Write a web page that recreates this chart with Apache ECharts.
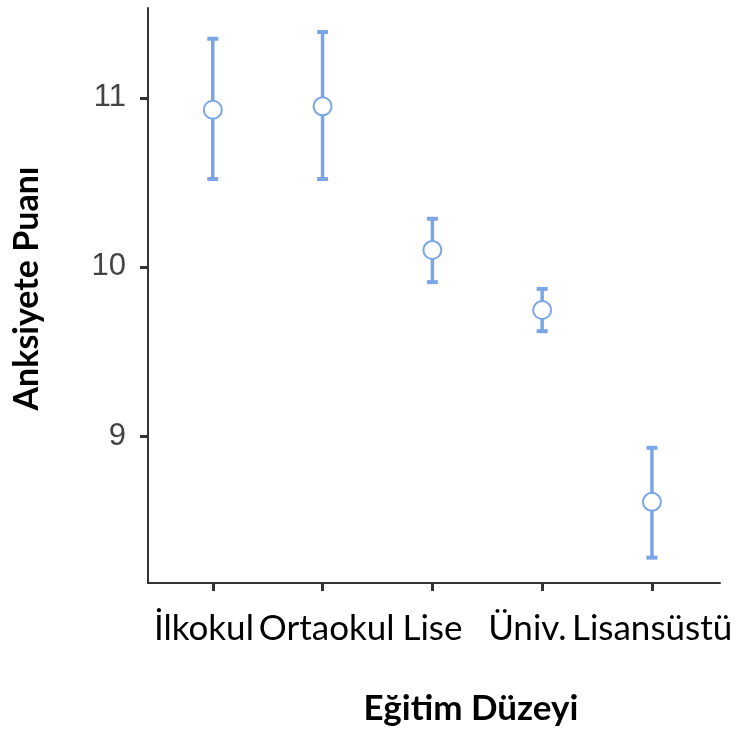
<!DOCTYPE html>
<html>
<head>
<meta charset="utf-8">
<script src="https://cdn.jsdelivr.net/npm/echarts@6/dist/echarts.min.js"></script>
<style>
  html, body { margin: 0; padding: 0; background: #ffffff; }
  #chart { width: 737px; height: 733px; }
</style>
</head>
<body>
<div id="chart"></div>
<script>
// Education levels and anxiety score: means with confidence intervals
const categories = ['İlkokul', 'Ortaokul', 'Lise', 'Üniv.', 'Lisansüstü'];
const means = [10.93, 10.95, 10.10, 9.745, 8.61];
const lower = [10.52, 10.52, 9.91, 9.62, 8.28];
const upper = [11.35, 11.39, 10.285, 9.87, 8.93];
const yTicks = [9, 10, 11];

const barColor = '#7aa6e8';
const axisColor = '#333333';
const labelFont = 'Lato';

const chart = echarts.init(document.getElementById('chart'));

const idx = categories.map((_, i) => i);
const intervalData = categories.map((_, i) => [i, lower[i], upper[i]]);
const meanData = categories.map((_, i) => [i, means[i]]);

// horizontal nudges (px) for some category labels so the row reads evenly
const labelNudge = { 0: -9, 1: 4, 3: -15 };
const rich = {};
Object.keys(labelNudge).forEach(k => {
  const d = labelNudge[k];
  rich['s' + k] = {
    fontFamily: labelFont, fontSize: 35, color: '#000',
    padding: d < 0 ? [0, -2 * d, 0, 0] : [0, 0, 0, 2 * d]
  };
});

chart.setOption({
  animation: false,
  backgroundColor: '#ffffff',
  grid: [
    // plotting area
    { left: 148, right: 17, top: 8, bottom: 150, containLabel: false },
    // label band: one category slot per level, centred on the level ticks
    { left: 158, right: 30, top: 8, bottom: 150, containLabel: false }
  ],
  xAxis: [
    {
      type: 'value',
      gridIndex: 0,
      min: -0.59,
      max: 4.62,
      splitLine: { show: false },
      axisLine: { show: true, onZero: false, lineStyle: { color: axisColor, width: 2 } },
      axisTick: { show: true, customValues: idx, length: 8, lineStyle: { color: axisColor, width: 3 } },
      axisLabel: { show: false },
      name: 'Eğitim Düzeyi',
      nameLocation: 'middle',
      nameGap: 108,
      nameTextStyle: {
        fontFamily: labelFont, fontWeight: 'bold', fontSize: 35, color: '#000000',
        padding: [0, 0, 0, 74]
      }
    },
    {
      type: 'category',
      gridIndex: 1,
      data: categories,
      boundaryGap: true,
      axisLine: { show: false },
      axisTick: { show: false },
      splitLine: { show: false },
      axisLabel: {
        interval: 0,
        hideOverlap: false,
        margin: 28,
        color: '#000000',
        fontFamily: labelFont,
        fontSize: 35,
        formatter: (v, i) => labelNudge[i] ? '{s' + i + '|' + v + '}' : v,
        rich
      }
    }
  ],
  yAxis: [
    {
      type: 'value',
      gridIndex: 0,
      min: 8.13,
      max: 11.532,
      splitLine: { show: false },
      axisLine: { show: true, onZero: false, lineStyle: { color: axisColor, width: 2 } },
      axisTick: { show: true, customValues: yTicks, length: 8, lineStyle: { color: axisColor, width: 3 } },
      axisLabel: {
        customValues: yTicks,
        showMinLabel: true,
        showMaxLabel: true,
        margin: 22,
        color: '#444444',
        fontFamily: 'Liberation Sans',
        fontSize: 31
      },
      name: 'Anksiyete Puanı',
      nameLocation: 'middle',
      nameRotate: 90,
      nameGap: 104,
      nameTextStyle: {
        fontFamily: labelFont, fontWeight: 'bold', fontSize: 34, color: '#000000',
        padding: [0, 0, 0, 14]
      }
    },
    {
      type: 'value',
      gridIndex: 1,
      show: false,
      min: 8.13,
      max: 11.532
    }
  ],
  series: [
    {
      type: 'custom',
      xAxisIndex: 0,
      yAxisIndex: 0,
      data: intervalData,
      encode: { x: 0, y: [1, 2] },
      z: 2,
      renderItem: (params, api) => {
        const x = api.value(0);
        const lo = api.coord([x, api.value(1)]);
        const hi = api.coord([x, api.value(2)]);
        const half = 5.5;
        const style = { stroke: barColor, lineWidth: 3.5, lineCap: 'butt' };
        const cap = { stroke: barColor, lineWidth: 4 };
        return {
          type: 'group',
          children: [
            { type: 'line', shape: { x1: hi[0], y1: hi[1], x2: lo[0], y2: lo[1] }, style },
            { type: 'line', shape: { x1: hi[0] - half, y1: hi[1], x2: hi[0] + half, y2: hi[1] }, style: cap },
            { type: 'line', shape: { x1: lo[0] - half, y1: lo[1], x2: lo[0] + half, y2: lo[1] }, style: cap }
          ]
        };
      }
    },
    {
      type: 'scatter',
      xAxisIndex: 0,
      yAxisIndex: 0,
      data: meanData,
      z: 3,
      symbol: 'circle',
      symbolSize: 18,
      itemStyle: { color: '#ffffff', borderColor: barColor, borderWidth: 2, opacity: 1 }
    }
  ]
});
</script>
</body>
</html>
